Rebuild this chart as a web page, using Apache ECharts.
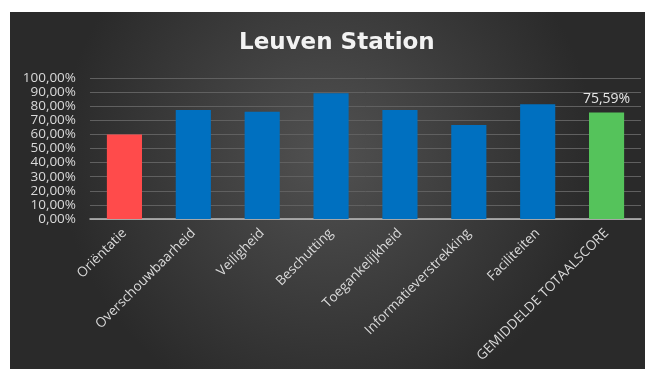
<!DOCTYPE html>
<html>
<head>
<meta charset="utf-8">
<script src="https://cdn.jsdelivr.net/npm/echarts@6/dist/echarts.min.js"></script>
<style>
  html, body { margin: 0; padding: 0; background: #ffffff; }
  #chart { position: absolute; left: 10px; top: 12px; width: 635px; height: 357px; }
</style>
</head>
<body>
<div id="chart"></div>
<script>
// Scores per criterion for Leuven Station (percent)
const categories = ['Oriëntatie', 'Overschouwbaarheid', 'Veiligheid', 'Beschutting',
  'Toegankelijkheid', 'Informatieverstrekking', 'Faciliteiten', 'GEMIDDELDE TOTAALSCORE'];
const scores = [60.0, 77.3, 76.1, 89.1, 77.3, 66.7, 81.3, 75.59];
const barColors = ['#ff4b4b', '#0070c0', '#0070c0', '#0070c0', '#0070c0', '#0070c0', '#0070c0', '#55c35b'];
const labelled = [false, false, false, false, false, false, false, true];

const fmt = v => v.toFixed(2).replace('.', ',') + '%';

const chart = echarts.init(document.getElementById('chart'));
chart.setOption({
  backgroundColor: {
    type: 'radial', x: 0.5, y: 0.4, r: 0.75,
    colorStops: [
      { offset: 0, color: '#515151' },
      { offset: 1, color: '#2a2a2a' }
    ]
  },
  title: {
    text: 'Leuven Station',
    left: 224,
    top: 15,
    textStyle: { color: '#f2f2f2', fontFamily: 'DejaVu Sans', fontWeight: 'bold', fontSize: 23 }
  },
  grid: { left: 80, right: 4, top: 66, height: 141 },
  xAxis: {
    type: 'category',
    data: categories,
    axisLine: { lineStyle: { color: '#bfbfbf', width: 1.5 } },
    axisTick: { show: false },
    axisLabel: {
      rotate: 45, interval: 0, margin: 12,
      color: '#d9d9d9', fontFamily: 'Open Sans', fontSize: 13.5
    }
  },
  yAxis: {
    type: 'value', min: 0, max: 100, interval: 10,
    axisLine: { show: false },
    axisTick: { show: false },
    splitLine: { lineStyle: { color: '#606060', width: 1 } },
    axisLabel: { formatter: fmt, color: '#d9d9d9', fontFamily: 'Open Sans', fontSize: 13.5, margin: 14 }
  },
  series: [{
    type: 'bar',
    barWidth: '51%',
    data: scores.map((v, i) => ({
      value: v,
      itemStyle: { color: barColors[i] },
      label: {
        show: labelled[i], position: 'top', distance: 6,
        formatter: p => fmt(p.value),
        color: '#e6e6e6', fontFamily: 'Open Sans', fontSize: 14
      }
    }))
  }]
});
</script>
</body>
</html>
